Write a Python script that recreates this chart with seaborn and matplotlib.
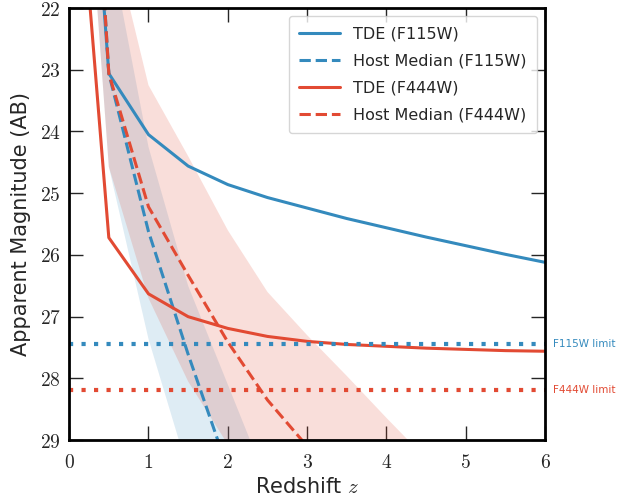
import numpy as np
import pandas as pd
import matplotlib
matplotlib.use("Agg")
import matplotlib.pyplot as plt
import seaborn as sns

# redshift grid
z = [0.1, 0.5, 1.0, 1.5, 2.0, 2.5, 3.0, 3.5, 4.0, 4.5, 5.0, 5.5, 6.0]

# TDE peak magnitudes
tde_f115w = [16.0, 23.06, 24.05, 24.56, 24.86, 25.07, 25.24, 25.41, 25.56, 25.71, 25.85, 25.99, 26.12]
tde_f444w = [19.4, 25.72, 26.63, 27.00, 27.19, 27.32, 27.40, 27.45, 27.48, 27.51, 27.53, 27.55, 27.56]

# host galaxy medians and ranges
host_med_f115w = [14.6, 23.06, 25.62, 27.61, 29.47, 31.2, 32.8, 34.2, 35.5, 36.7, 37.8, 38.8, 39.8]
host_lo_f115w = [12.9, 20.9, 24.25, 26.5, 28.1, 29.7, 31.2, 32.6, 33.9, 35.1, 36.2, 37.2, 38.2]
host_hi_f115w = [17.5, 24.57, 27.36, 29.5, 31.4, 33.1, 34.7, 36.1, 37.4, 38.6, 39.7, 40.7, 41.7]

host_med_f444w = [14.6, 23.06, 25.22, 26.33, 27.41, 28.35, 29.1, 29.8, 30.4, 31.0, 31.5, 32.0, 32.4]
host_lo_f444w = [12.9, 20.6, 23.25, 24.4, 25.6, 26.6, 27.3, 27.96, 28.64, 29.3, 29.9, 30.5, 31.0]
host_hi_f444w = [17.5, 24.57, 26.7, 28.05, 29.07, 30.0, 30.8, 31.5, 32.1, 32.7, 33.2, 33.7, 34.1]

# survey depth
limit_f115w = 27.45
limit_f444w = 28.18

blue = "#348ABD"
red = "#E24A33"

sns.set_style("ticks")
plt.rcParams["mathtext.fontset"] = "cm"

fig = plt.figure(figsize=(6.23, 5.03), dpi=100)
ax = fig.add_axes([0.111, 0.125, 0.764, 0.859])

ax.fill_between(z, host_lo_f115w, host_hi_f115w, color=blue, alpha=0.16, lw=0)
ax.fill_between(z, host_lo_f444w, host_hi_f444w, color=red, alpha=0.18, lw=0)

sns.lineplot(x=z, y=tde_f115w, color=blue, lw=2.2, label="TDE (F115W)", ax=ax)
sns.lineplot(x=z, y=host_med_f115w, color=blue, lw=2.2, ls="--", label="Host Median (F115W)", ax=ax)
sns.lineplot(x=z, y=tde_f444w, color=red, lw=2.2, label="TDE (F444W)", ax=ax)
sns.lineplot(x=z, y=host_med_f444w, color=red, lw=2.2, ls="--", label="Host Median (F444W)", ax=ax)

ax.axhline(limit_f115w, color=blue, ls=(0, (1, 2)), lw=3)
ax.axhline(limit_f444w, color=red, ls=(0, (1, 2)), lw=3)
ax.text(6.1, limit_f115w, "F115W limit", color=blue, fontsize=7.5, va="center", ha="left")
ax.text(6.1, limit_f444w, "F444W limit", color=red, fontsize=7.5, va="center", ha="left")

ax.set_xlim(0, 6)
ax.set_ylim(29, 22)
ax.set_xticks(range(0, 7))
ax.set_yticks(range(22, 30))
ax.set_xticklabels([f"${v}$" for v in range(0, 7)])
ax.set_yticklabels([f"${v}$" for v in range(22, 30)])
ax.tick_params(direction="in", length=10, width=1, labelsize=14, top=True, right=True)
ax.tick_params(axis="x", pad=9)
ax.tick_params(axis="y", pad=6)
for s in ax.spines.values():
    s.set_linewidth(2)
    s.set_color("black")

ax.set_xlabel("Redshift $z$", fontsize=15, labelpad=4)
ax.set_ylabel("Apparent Magnitude (AB)", fontsize=15, labelpad=6)

leg = ax.legend(loc="upper right", fontsize=11.5, handlelength=2.6, borderpad=0.65,
                labelspacing=0.75, frameon=True, fancybox=True)
leg.get_frame().set_edgecolor("#cccccc")

fig.savefig("out.png", dpi=100)
